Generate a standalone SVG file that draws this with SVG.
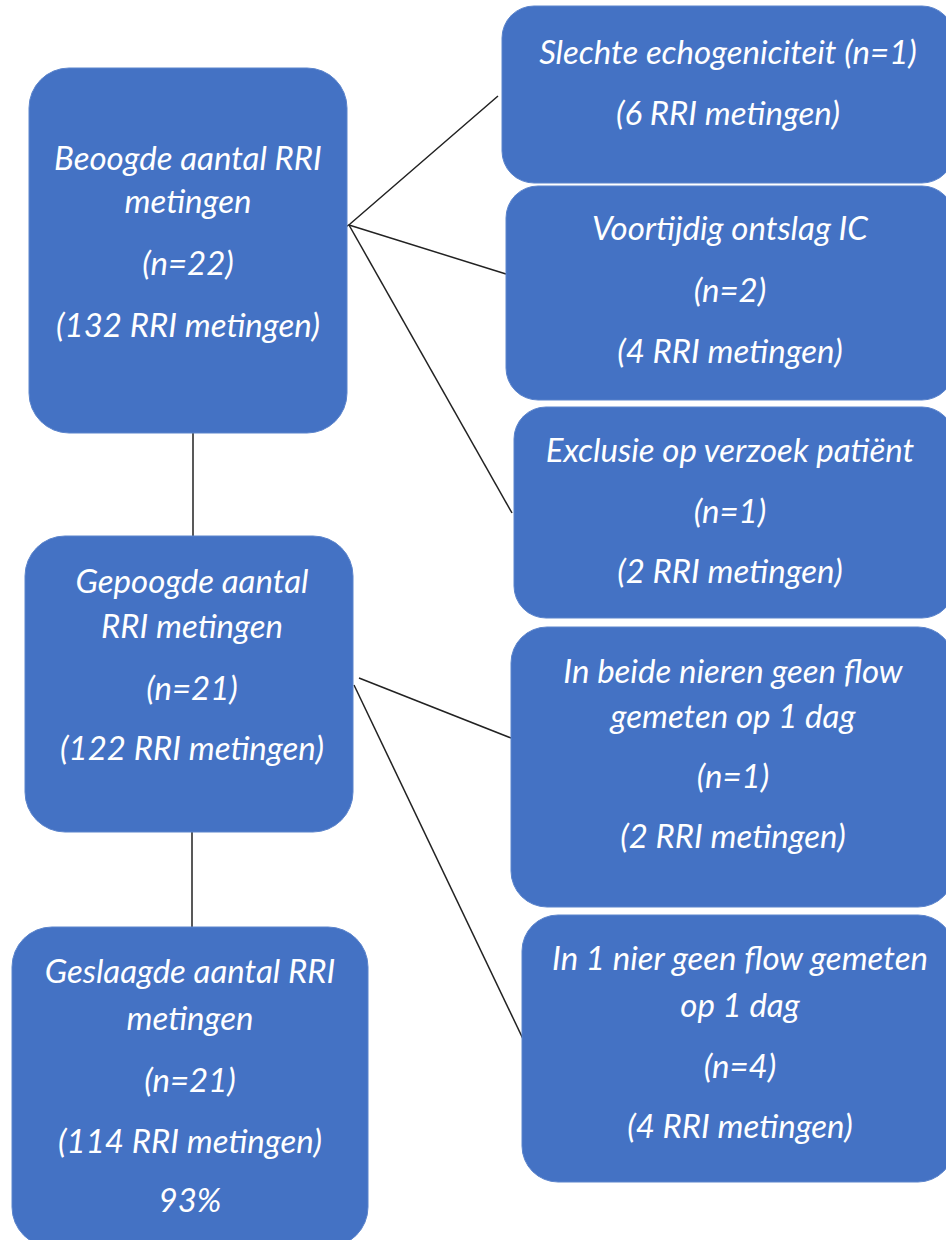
<svg xmlns="http://www.w3.org/2000/svg" width="946" height="1240" viewBox="0 0 946 1240">
<style>
.box{fill:#4472C4;stroke:#5B84CC;stroke-width:1}
.t{fill:#fff;font-family:Lato,"Open Sans","Liberation Sans",sans-serif;font-style:italic;font-size:33px;text-anchor:middle}
.c{stroke:#222;stroke-width:1.5;fill:none}
</style>
<rect width="946" height="1240" fill="#fff"/>
<g id="connectors">
<line class="c" x1="193" y1="433" x2="193" y2="536"/>
<line class="c" x1="192" y1="830" x2="192" y2="927"/>
<polyline class="c" points="340,231 350,224 498,96"/>
<line class="c" x1="349" y1="225" x2="506" y2="274"/>
<line class="c" x1="349" y1="225" x2="512" y2="513"/>
<line class="c" x1="359" y1="678" x2="511" y2="738"/>
<line class="c" x1="354" y1="685" x2="524" y2="1041"/>
</g>
<g id="beoogde">
<rect class="box" x="29" y="68" width="318" height="365" rx="40"/>
<text class="t" x="188" y="170">Beoogde aantal RRI</text>
<text class="t" x="188" y="213">metingen</text>
<text class="t" x="188" y="275">(n=22)</text>
<text class="t" x="188" y="337">(132 RRI metingen)</text>
</g>
<g id="gepoogde">
<rect class="box" x="25" y="536" width="328" height="296" rx="40"/>
<text class="t" x="192" y="593">Gepoogde aantal</text>
<text class="t" x="192" y="638">RRI metingen</text>
<text class="t" x="192" y="700">(n=21)</text>
<text class="t" x="192" y="760">(122 RRI metingen)</text>
</g>
<g id="geslaagde">
<rect class="box" x="12" y="927" width="356" height="320" rx="40"/>
<text class="t" x="190" y="983">Geslaagde aantal RRI</text>
<text class="t" x="190" y="1030">metingen</text>
<text class="t" x="190" y="1092">(n=21)</text>
<text class="t" x="190" y="1153">(114 RRI metingen)</text>
<text class="t" x="190" y="1212">93%</text>
</g>
<g id="slechte">
<rect class="box" x="502" y="6" width="452" height="177" rx="32"/>
<text class="t" x="728" y="64">Slechte echogeniciteit (n=1)</text>
<text class="t" x="728" y="125">(6 RRI metingen)</text>
</g>
<g id="voortijdig">
<rect class="box" x="506" y="186" width="448" height="214" rx="32"/>
<text class="t" x="730" y="240">Voortijdig ontslag IC</text>
<text class="t" x="730" y="302">(n=2)</text>
<text class="t" x="730" y="363">(4 RRI metingen)</text>
</g>
<g id="exclusie">
<rect class="box" x="514" y="407" width="440" height="211" rx="32"/>
<text class="t" x="730" y="462">Exclusie op verzoek patiënt</text>
<text class="t" x="730" y="523">(n=1)</text>
<text class="t" x="730" y="583">(2 RRI metingen)</text>
</g>
<g id="beide">
<rect class="box" x="511" y="627" width="443" height="280" rx="36"/>
<text class="t" x="733" y="683">In beide nieren geen flow</text>
<text class="t" x="733" y="728">gemeten op 1 dag</text>
<text class="t" x="733" y="788">(n=1)</text>
<text class="t" x="733" y="848">(2 RRI metingen)</text>
</g>
<g id="eennier">
<rect class="box" x="522" y="915" width="432" height="267" rx="36"/>
<text class="t" x="740" y="970">In 1 nier geen flow gemeten</text>
<text class="t" x="740" y="1017">op 1 dag</text>
<text class="t" x="740" y="1078">(n=4)</text>
<text class="t" x="740" y="1138">(4 RRI metingen)</text>
</g>
</svg>
